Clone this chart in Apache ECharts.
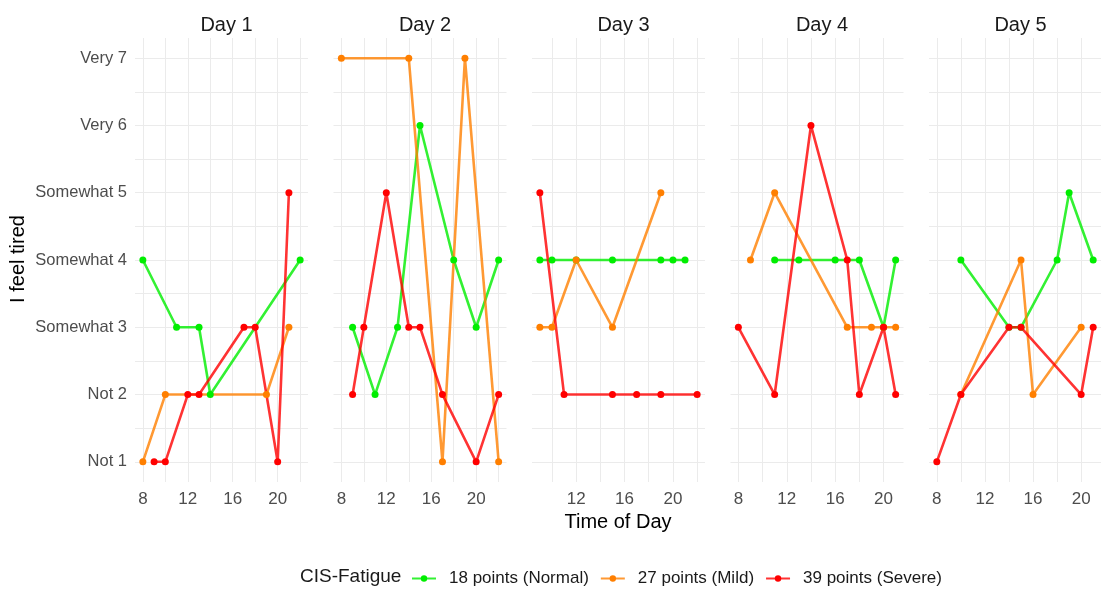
<!DOCTYPE html>
<html>
<head>
<meta charset="utf-8">
<script src="https://cdn.jsdelivr.net/npm/echarts@6/dist/echarts.min.js"></script>
<style>
  html, body { margin: 0; padding: 0; background: #fff; }
  #chart { width: 1101px; height: 589px; }
</style>
</head>
<body>
<div id="chart"></div>
<script>
// 数据 (hour, score) per day
var days = ['Day 1', 'Day 2', 'Day 3', 'Day 4', 'Day 5'];
var groups = ['18 points (Normal)', '27 points (Mild)', '39 points (Severe)'];

var normalData = [
    [[8, 4], [11, 3], [13, 3], [14, 2], [22, 4]],
    [[9, 3], [11, 2], [13, 3], [15, 6], [18, 4], [20, 3], [22, 4]],
    [[9, 4], [10, 4], [12, 4], [15, 4], [19, 4], [20, 4], [21, 4]],
    [[11, 4], [13, 4], [16, 4], [18, 4], [20, 3], [21, 4]],
    [[10, 4], [14, 3], [15, 3], [18, 4], [19, 5], [21, 4]]
];
var mildData = [
    [[8, 1], [10, 2], [19, 2], [21, 3]],
    [[8, 7], [14, 7], [17, 1], [19, 7], [22, 1]],
    [[9, 3], [10, 3], [12, 4], [15, 3], [19, 5]],
    [[9, 4], [11, 5], [17, 3], [19, 3], [20, 3], [21, 3]],
    [[10, 2], [15, 4], [16, 2], [20, 3]]
];
var severeData = [
    [[9, 1], [10, 1], [12, 2], [13, 2], [17, 3], [18, 3], [20, 1], [21, 5]],
    [[9, 2], [10, 3], [12, 5], [14, 3], [15, 3], [17, 2], [20, 1], [22, 2]],
    [[9, 5], [11, 2], [15, 2], [17, 2], [19, 2], [22, 2]],
    [[8, 3], [11, 2], [14, 6], [17, 4], [18, 2], [20, 3], [21, 2]],
    [[8, 1], [10, 2], [14, 3], [15, 3], [20, 2], [21, 3]]
];

var yLabels = ['Not 1', 'Not 2', 'Somewhat 3', 'Somewhat 4', 'Somewhat 5', 'Very 6', 'Very 7'];
var yLabelValues = [1, 2, 3, 4, 5, 6, 7];
var yGridValues = [1, 1.5, 2, 2.5, 3, 3.5, 4, 4.5, 5, 5.5, 6, 6.5, 7];
var xLabelValues = [8, 12, 16, 20];
var xGridValues = [8, 10, 12, 14, 16, 18, 20, 22];

var lineColors = ['rgba(0,238,0,0.8)', 'rgba(255,127,0,0.8)', 'rgba(255,0,0,0.8)'];
var pointColors = ['#00ee00', '#ff7f00', '#ff0000'];

var allData = [normalData, mildData, severeData];
var font = 'Liberation Sans, Arial, sans-serif';

function initEcharts() {
    var myChart = echarts.init(document.getElementById('chart'));

    var grids = [], xAxes = [], yAxes = [], titles = [], series = [];
    for (let d = 0; d < days.length; d++) {
        let left = 135 + d * 198.5;
        grids.push({ left: left, top: 38, width: 173, height: 444 });
        titles.push({
            text: days[d],
            left: left + 86.5,
            top: 10,
            textAlign: 'center',
            textStyle: { fontSize: 20, fontWeight: 'normal', color: '#1a1a1a', fontFamily: font }
        });

        // x 范围: 数据范围两侧各扩 5%
        let hrs = [];
        allData.forEach(function (g) { g[d].forEach(function (p) { hrs.push(p[0]); }); });
        let lo = Math.min.apply(null, hrs), hi = Math.max.apply(null, hrs);
        let pad = (hi - lo) * 0.05;

        xAxes.push({
            type: 'value',
            gridIndex: d,
            min: lo - pad,
            max: hi + pad,
            axisLine: { show: false },
            axisTick: { show: false, customValues: xGridValues },
            axisLabel: {
                customValues: xLabelValues,
                fontSize: 17,
                color: '#4d4d4d',
                fontFamily: font,
                margin: 9
            },
            splitLine: { show: true, lineStyle: { color: '#ebebeb', width: 1 } }
        });
        yAxes.push({
            type: 'value',
            gridIndex: d,
            min: 0.7,
            max: 7.3,
            axisLine: { show: false },
            axisTick: { show: false, customValues: yGridValues },
            axisLabel: {
                show: d === 0,
                customValues: yLabelValues,
                fontSize: 16.5,
                color: '#4d4d4d',
                fontFamily: font,
                margin: 8,
                formatter: function (v) { return yLabels[Math.round(v) - 1]; }
            },
            splitLine: { show: true, lineStyle: { color: '#ebebeb', width: 1 } }
        });

        for (let g = 0; g < groups.length; g++) {
            series.push({
                name: groups[g],
                type: 'line',
                xAxisIndex: d,
                yAxisIndex: d,
                data: allData[g][d],
                symbol: 'circle',
                symbolSize: 7,
                showAllSymbol: true,
                lineStyle: { color: lineColors[g], width: 2.6 },
                itemStyle: { color: pointColors[g] },
                emphasis: { disabled: true },
                animation: false
            });
        }
    }

    var option = {
        backgroundColor: '#ffffff',
        title: titles,
        grid: grids,
        xAxis: xAxes,
        yAxis: yAxes,
        legend: {
            data: groups,
            left: 406,
            top: 565,
            itemWidth: 24,
            itemHeight: 8,
            itemGap: 11,
            textStyle: { fontSize: 17, color: '#1a1a1a', fontFamily: font, padding: [0, 0, 0, 8] }
        },
        graphic: [
            {
                type: 'text', left: 300, top: 567,
                style: { text: 'CIS-Fatigue', fontSize: 19, fill: '#1a1a1a', fontFamily: font }
            },
            {
                type: 'text', x: 618, y: 522,
                style: { text: 'Time of Day', fontSize: 20, fill: '#000', fontFamily: font, align: 'center', verticalAlign: 'middle' }
            },
            {
                type: 'text', x: 18, y: 259, rotation: Math.PI / 2,
                style: { text: 'I feel tired', fontSize: 20, fill: '#000', fontFamily: font, align: 'center', verticalAlign: 'middle' }
            }
        ],
        series: series
    };

    myChart.setOption(option);
    resize(myChart);
}

// 响应式
function resize(echart) {
    window.onresize = function () {
        echart.resize();
    };
}

initEcharts();
</script>
</body>
</html>
